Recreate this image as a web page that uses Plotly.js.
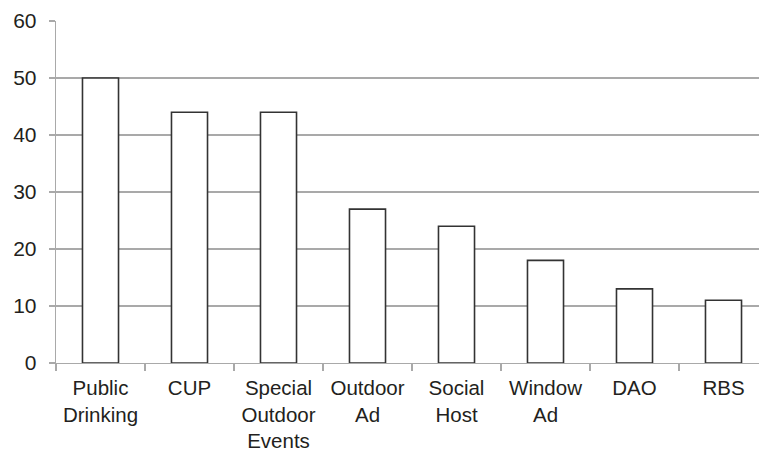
<!DOCTYPE html>
<html>
<head>
<meta charset="utf-8">
<script src="https://cdn.plot.ly/plotly-3.0.1.min.js"></script>
<style>
html,body{margin:0;padding:0;overflow:hidden;background:#fff;}
#chart{width:768px;height:454px;}
</style>
</head>
<body>
<div id="chart"></div>
<script>
const categories = ["Public<br>Drinking", "CUP", "Special<br>Outdoor<br>Events", "Outdoor<br>Ad", "Social<br>Host", "Window<br>Ad", "DAO", "RBS"];
const values = [50, 44, 44, 27, 24, 18, 13, 11];
const yTicks = [0, 10, 20, 30, 40, 50, 60];

const trace = {
  type: 'bar',
  x: categories,
  y: values,
  marker: {color: '#ffffff', line: {color: '#333333', width: 1.6}},
  hoverinfo: 'none'
};

const gray = '#a9a9a9';
const layout = {
  width: 768,
  height: 454,
  margin: {l: 56, r: 0, t: 20.5, b: 90.7, pad: 0},
  paper_bgcolor: '#ffffff',
  plot_bgcolor: '#ffffff',
  font: {family: 'Liberation Sans, Arial, sans-serif', size: 21, color: '#231f20'},
  showlegend: false,
  bargap: 0.595,
  xaxis: {
    type: 'category',
    showline: true,
    linecolor: gray,
    linewidth: 1.3,
    ticks: 'outside',
    tickson: 'boundaries',
    ticklen: 7,
    tickcolor: gray,
    tickwidth: 1.3,
    showgrid: false,
    ticklabelstandoff: 6,
    tickfont: {size: 20.5}
  },
  yaxis: {
    range: [0, 60],
    tickvals: yTicks,
    ticktext: yTicks.map(String),
    showline: true,
    linecolor: gray,
    linewidth: 1.3,
    ticks: 'outside',
    ticklen: 6,
    tickcolor: gray,
    tickwidth: 1.3,
    showgrid: true,
    gridcolor: gray,
    gridwidth: 1.3,
    zeroline: false,
    ticklabelstandoff: 8,
    tickfont: {size: 21}
  }
};

Plotly.newPlot('chart', [trace], layout, {staticPlot: true, displayModeBar: false});
</script>
</body>
</html>
